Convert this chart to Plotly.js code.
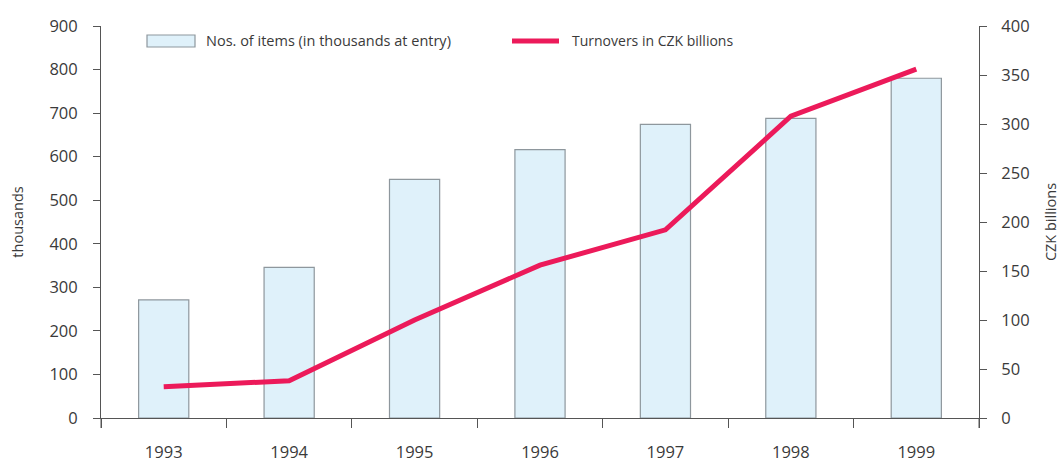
<!DOCTYPE html>
<html>
<head>
<meta charset="utf-8">
<script src="https://cdn.plot.ly/plotly-3.0.1.min.js"></script>
<style>
  html, body { margin: 0; padding: 0; background: #fff; }
  #chart { width: 1060px; height: 462px; }
</style>
</head>
<body>
<div id="chart"></div>
<script>
// years on the category axis
const years = ["1993", "1994", "1995", "1996", "1997", "1998", "1999"];

// number of items (thousands at entry), left axis
const itemCounts = [271, 346, 548, 616, 674, 688, 780];

// turnover in CZK billions, right axis
const turnovers = [32, 38, 100, 156, 192, 308, 356];

const seriesNames = ["Nos. of items (in thousands at entry)", "Turnovers in CZK billions"];

const FONT = "Open Sans, Noto Sans, sans-serif";
const TEXT = "#3a3a3a";
const BAR_FILL = "#dff1fa";
const BAR_EDGE = "#8e979d";
const LINE_COL = "#ec1a5a";

const traces = [
  {
    type: "bar",
    x: years,
    y: itemCounts,
    name: seriesNames[0],
    width: 0.4,
    marker: { color: BAR_FILL, line: { color: BAR_EDGE, width: 1.2 } },
    yaxis: "y"
  },
  {
    type: "scatter",
    mode: "lines",
    x: years,
    y: turnovers,
    name: seriesNames[1],
    line: { color: LINE_COL, width: 5 },
    yaxis: "y2"
  }
];

// plot area in pixels, used to place the hand-made legend
const L = 101, R = 979, T = 26, B = 418;
const px = v => (v - L) / (R - L);
const py = v => (B - v) / (B - T);

const legendShapes = [
  {
    type: "rect", xref: "paper", yref: "paper",
    x0: px(147), x1: px(195), y0: py(47), y1: py(35),
    fillcolor: BAR_FILL, line: { color: BAR_EDGE, width: 1.2 }
  },
  {
    type: "line", xref: "paper", yref: "paper",
    x0: px(512), x1: px(559), y0: py(41), y1: py(41),
    line: { color: LINE_COL, width: 5 }
  },
  // axis lines run a little below the zero line, as in the original
  {
    type: "line", xref: "paper", yref: "paper",
    x0: 0, x1: 0, y0: 0, y1: py(428),
    line: { color: "#555", width: 1 }
  },
  {
    type: "line", xref: "paper", yref: "paper",
    x0: 1, x1: 1, y0: 0, y1: py(428),
    line: { color: "#555", width: 1 }
  }
];

const legendNotes = [
  {
    xref: "paper", yref: "paper", x: px(204), y: py(41),
    xanchor: "left", yanchor: "middle", showarrow: false,
    text: seriesNames[0], font: { size: 14.5, color: TEXT }
  },
  {
    xref: "paper", yref: "paper", x: px(570), y: py(41),
    xanchor: "left", yanchor: "middle", showarrow: false,
    text: seriesNames[1], font: { size: 14, color: TEXT }
  }
];

const layout = {
  width: 1060,
  height: 462,
  margin: { l: L, r: 1060 - R, t: T, b: 462 - B },
  paper_bgcolor: "#fff",
  plot_bgcolor: "#fff",
  font: { family: FONT, size: 16, color: TEXT },
  showlegend: false,
  xaxis: {
    type: "category",
    showline: true,
    linecolor: "#555",
    linewidth: 1,
    ticks: "outside",
    tickson: "boundaries",
    ticklen: 9,
    tickcolor: "#555",
    ticklabelstandoff: 19,
    showgrid: false,
    zeroline: false,
    tickfont: { size: 16.5, color: TEXT }
  },
  yaxis: {
    range: [0, 900],
    dtick: 100,
    showline: true,
    linecolor: "#555",
    linewidth: 1,
    ticks: "outside",
    ticklen: 7,
    tickcolor: "#555",
    ticklabelstandoff: 12,
    showgrid: false,
    zeroline: false,
    tickfont: { size: 16.5, color: TEXT },
    title: { text: "thousands", font: { size: 14.5, color: TEXT }, standoff: 22 }
  },
  yaxis2: {
    overlaying: "y",
    side: "right",
    range: [0, 400],
    dtick: 50,
    showline: true,
    linecolor: "#555",
    linewidth: 1,
    ticks: "outside",
    ticklen: 7,
    tickcolor: "#555",
    ticklabelstandoff: 11,
    showgrid: false,
    zeroline: false,
    tickfont: { size: 16.5, color: TEXT },
    title: { text: "CZK billions", font: { size: 14.5, color: TEXT }, standoff: 20 }
  },
  shapes: legendShapes,
  annotations: legendNotes
};

Plotly.newPlot("chart", traces, layout, { displayModeBar: false, staticPlot: true });
</script>
</body>
</html>
